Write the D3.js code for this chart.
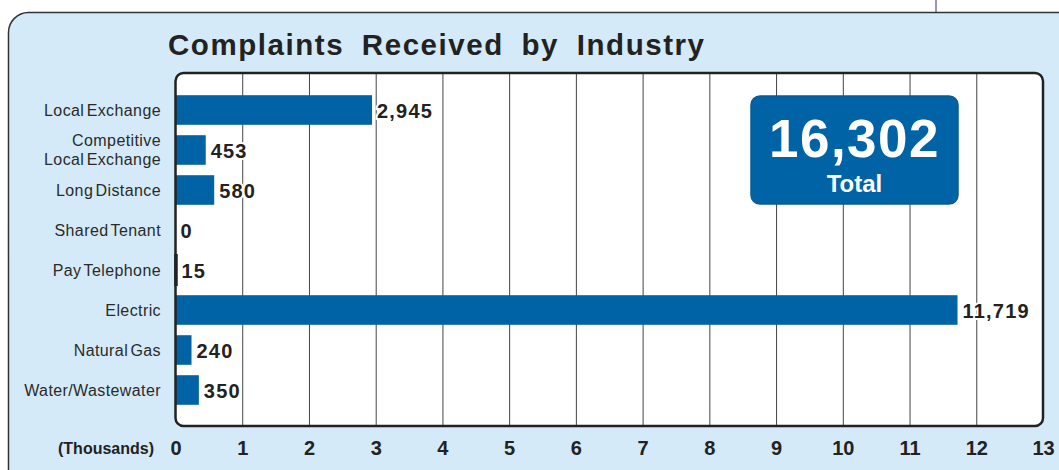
<!DOCTYPE html>
<html>
<head>
<meta charset="utf-8">
<script src="https://cdn.jsdelivr.net/npm/d3@7"></script>
<style>
  body { margin: 0; background: #fff; }
  svg { display: block; font-family: "Liberation Sans", Arial, sans-serif; }
</style>
</head>
<body>
<div class="chart"></div>
<script>
// chart values
const industries = ["Local Exchange", "Competitive|Local Exchange", "Long Distance", "Shared Tenant",
                    "Pay Telephone", "Electric", "Natural Gas", "Water/Wastewater"]
const complaints = [2945, 453, 580, 0, 15, 11719, 240, 350]
const xTicks = [0, 1, 2, 3, 4, 5, 6, 7, 8, 9, 10, 11, 12, 13]
const totalLabel = "16,302"
const titleText = "Complaints Received by Industry"

const width = 1059, height = 470
const plot = { left: 175.5, right: 1043, top: 73, bottom: 426 }
const blue = '#0063a6'

const svg = d3.select(".chart").append('svg')
  .attr('width', width)
  .attr('height', height)

// outer light blue panel
svg.append('rect')
   .attr('x', 8.5).attr('y', 12.5)
   .attr('width', 1075).attr('height', 490)
   .attr('rx', 20)
   .attr('fill', '#d5eaf8')
   .attr('stroke', '#333')
   .attr('stroke-width', 1.5)

// little connector line at the top
svg.append('line')
   .attr('x1', 936).attr('x2', 936)
   .attr('y1', 0).attr('y2', 12)
   .attr('stroke', '#333366')
   .attr('stroke-width', 1)

// title
svg.append('text')
   .attr('x', 168).attr('y', 55)
   .attr('textLength', 536)
   .attr('lengthAdjust', 'spacing')
   .style('font-size', '29.5px')
   .style('font-weight', 'bold')
   .style('word-spacing', '8px')
   .attr('fill', '#222')
   .text(titleText)

// scales
const xScale = d3.scaleLinear()
                 .domain([0, 13])
                 .range([plot.left, plot.right])
const yScale = d3.scaleBand()
                 .domain(industries)
                 .range([90, 410])
                 .paddingInner(0.26)
                 .paddingOuter(0.13)

// plot frame (white)
svg.append('rect')
   .attr('x', plot.left).attr('y', plot.top)
   .attr('width', plot.right - plot.left)
   .attr('height', plot.bottom - plot.top)
   .attr('rx', 8)
   .attr('fill', '#fff')

// vertical grid lines
const grid = svg.append('g')
   .attr('transform', `translate(0, ${plot.bottom})`)
   .call(d3.axisBottom(xScale)
           .tickValues(xTicks.slice(1, -1))
           .tickSize(-(plot.bottom - plot.top))
           .tickFormat(''))
grid.select('.domain').remove()
grid.selectAll('line').attr('stroke', '#444').attr('stroke-width', 1)

// bars
svg.append('g')
   .selectAll('rect')
   .data(industries)
   .enter()
   .append('rect')
   .attr('x', xScale(0))
   .attr('y', d => yScale(d))
   .attr('width', (d, i) => xScale(complaints[i] / 1000) - xScale(0))
   .attr('height', yScale.bandwidth())
   .attr('fill', (d, i) => complaints[i] < 50 ? '#1c2430' : blue)
   .attr('stroke', (d, i) => complaints[i] > 0 && complaints[i] < 50 ? '#1c2430' : 'none')
   .attr('stroke-width', 2.5)

// value labels (white halo hides grid lines behind them)
svg.append('g')
   .selectAll('text')
   .data(industries)
   .enter()
   .append('text')
   .attr('x', (d, i) => xScale(complaints[i] / 1000) + 5)
   .attr('y', d => yScale(d) + yScale.bandwidth() / 2 + 1)
   .attr('dy', '0.35em')
   .style('font-size', '20px')
   .style('font-weight', 'bold')
   .style('letter-spacing', '1.2px')
   .attr('fill', '#222')
   .attr('stroke', '#fff')
   .attr('stroke-width', 4)
   .attr('paint-order', 'stroke')
   .text((d, i) => d3.format(',')(complaints[i]))

// frame border on top
svg.append('rect')
   .attr('x', plot.left).attr('y', plot.top)
   .attr('width', plot.right - plot.left)
   .attr('height', plot.bottom - plot.top)
   .attr('rx', 8)
   .attr('fill', 'none')
   .attr('stroke', '#222')
   .attr('stroke-width', 2.5)

// category labels
const catLabels = svg.append('g')
   .selectAll('text')
   .data(industries)
   .enter()
   .append('text')
   .attr('x', 161)
   .attr('y', d => yScale(d) + yScale.bandwidth() / 2)
   .attr('text-anchor', 'end')
   .style('font-size', '16px')
   .style('letter-spacing', '0.4px')
   .style('word-spacing', '-2.5px')
   .attr('fill', '#2a2a2a')
catLabels.each(function(d) {
  const lines = d.split('|')
  const t = d3.select(this)
  lines.forEach((line, k) => {
    t.append('tspan')
     .attr('x', 161)
     .attr('dy', k === 0 ? `${0.35 - (lines.length - 1) * 0.6}em` : '1.2em')
     .text(line)
  })
})

// x axis numbers
const xAxis = svg.append('g')
   .attr('transform', `translate(0, 448)`)
   .call(d3.axisBottom(xScale).tickValues(xTicks).tickSize(0).tickPadding(0))
xAxis.select('.domain').remove()
xAxis.selectAll('text')
     .attr('dy', '0.35em')
     .style('font-size', '20px')
     .style('font-weight', 'bold')
     .style('font-family', '"Liberation Sans", Arial, sans-serif')
     .attr('fill', '#222')

svg.append('text')
   .attr('x', 154).attr('y', 448)
   .attr('dy', '0.35em')
   .attr('text-anchor', 'end')
   .style('font-size', '16px')
   .style('font-weight', 'bold')
   .attr('fill', '#222')
   .text('(Thousands)')

// total box
const box = svg.append('g').attr('transform', 'translate(751, 96)')
box.append('rect')
   .attr('width', 207).attr('height', 108)
   .attr('rx', 9)
   .attr('fill', blue)
   .attr('stroke', '#0b5a96')
   .attr('stroke-width', 1.5)
box.append('text')
   .attr('x', 103.5).attr('y', 61)
   .attr('text-anchor', 'middle')
   .style('font-size', '53px')
   .style('font-weight', 'bold')
   .style('letter-spacing', '1.5px')
   .attr('fill', '#fff')
   .text(totalLabel)
box.append('text')
   .attr('x', 103.5).attr('y', 96)
   .attr('text-anchor', 'middle')
   .style('font-size', '24px')
   .style('font-weight', 'bold')
   .attr('fill', '#fff')
   .text('Total')
</script>
</body>
</html>
